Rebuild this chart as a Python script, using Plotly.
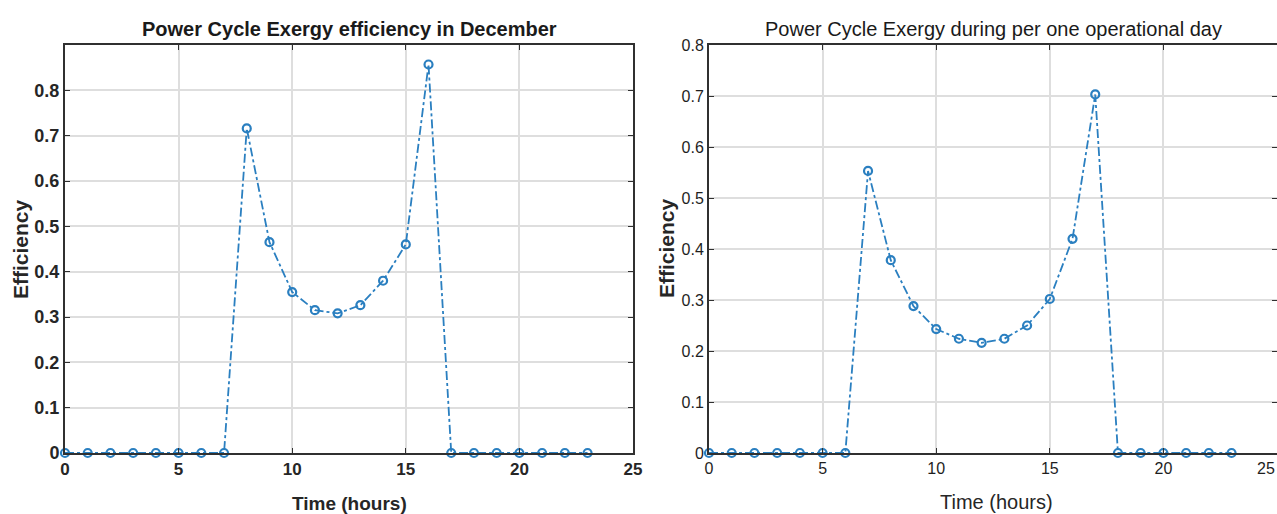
import plotly.graph_objects as go

hours = list(range(24))
eff_december = [0, 0, 0, 0, 0, 0, 0, 0, 0.716, 0.465, 0.355, 0.315, 0.308, 0.326, 0.380, 0.460, 0.857, 0, 0, 0, 0, 0, 0, 0]
eff_day = [0, 0, 0, 0, 0, 0, 0, 0.553, 0.378, 0.288, 0.243, 0.224, 0.216, 0.224, 0.250, 0.302, 0.420, 0.703, 0, 0, 0, 0, 0, 0]
x_ticks = [0, 5, 10, 15, 20, 25]
y_ticks_left = [0, 0.1, 0.2, 0.3, 0.4, 0.5, 0.6, 0.7, 0.8]
y_ticks_right = [0, 0.1, 0.2, 0.3, 0.4, 0.5, 0.6, 0.7, 0.8]

W, H = 1277, 514
FONT = "Liberation Sans, Arial"
BLUE = "#2a7fc0"
TXT = "#262626"

fig = go.Figure()
line_style = dict(color=BLUE, width=1.8, dash="dashdot")
marker_style = dict(symbol="circle-open", size=8, color=BLUE, line=dict(width=2.2, color=BLUE))
fig.add_trace(go.Scatter(x=hours, y=eff_december, mode="lines+markers", line=line_style,
                         marker=marker_style, xaxis="x", yaxis="y", cliponaxis=False, showlegend=False))
fig.add_trace(go.Scatter(x=hours, y=eff_day, mode="lines+markers", line=line_style,
                         marker=marker_style, xaxis="x2", yaxis="y2", cliponaxis=False, showlegend=False))

def px_x(p):
    return p / W

def px_y(p):
    return (H - p) / H

axis_common = dict(showline=True, mirror="ticks", linecolor="#303030", linewidth=2,
                   ticks="inside", ticklen=5, tickcolor="#303030",
                   showgrid=True, gridcolor="#dedede", gridwidth=1.5, zeroline=False,
                   automargin=False)

fig.update_layout(
    width=W, height=H, margin=dict(l=0, r=0, t=0, b=0),
    paper_bgcolor="white", plot_bgcolor="white",
    font=dict(family=FONT, color=TXT),
    xaxis=dict(domain=[px_x(65), px_x(633)], range=[0, 25], tickvals=x_ticks,
               tickfont=dict(size=17, family=FONT, color=TXT, weight="bold"),
               anchor="y", **axis_common),
    yaxis=dict(domain=[px_y(453), px_y(45)], range=[0, 0.9], tickvals=y_ticks_left,
               ticktext=[("%g" % v) for v in y_ticks_left],
               tickfont=dict(size=18, family=FONT, color=TXT, weight="bold"),
               anchor="x", **axis_common),
    xaxis2=dict(domain=[px_x(709), 1.0], range=[0, 25], tickvals=x_ticks,
                tickfont=dict(size=16, family=FONT, color="#1e1e1e"),
                anchor="y2", **axis_common),
    yaxis2=dict(domain=[px_y(453), px_y(45)], range=[0, 0.8], tickvals=y_ticks_right,
                ticktext=[("%g" % v) for v in y_ticks_right],
                tickfont=dict(size=16, family=FONT, color="#1e1e1e"),
                anchor="x2", **axis_common),
    annotations=[
        dict(text="<b>Power Cycle Exergy efficiency in December</b>", x=px_x(349), y=px_y(29),
             xref="paper", yref="paper", showarrow=False, xanchor="center", yanchor="middle",
             font=dict(size=20, family=FONT, color="#1a1a1a")),
        dict(text="Power Cycle Exergy during per one operational day", x=px_x(993), y=px_y(29),
             xref="paper", yref="paper", showarrow=False, xanchor="center", yanchor="middle",
             font=dict(size=20, family=FONT, color="#1a1a1a")),
        dict(text="<b>Time (hours)</b>", x=px_x(349), y=px_y(503),
             xref="paper", yref="paper", showarrow=False, xanchor="center", yanchor="middle",
             font=dict(size=19, family=FONT, color=TXT)),
        dict(text="Time (hours)", x=px_x(996), y=px_y(502),
             xref="paper", yref="paper", showarrow=False, xanchor="center", yanchor="middle",
             font=dict(size=20, family=FONT, color=TXT)),
        dict(text="<b>Efficiency</b>", x=px_x(20), y=px_y(249), textangle=-90,
             xref="paper", yref="paper", showarrow=False, xanchor="center", yanchor="middle",
             font=dict(size=21, family=FONT, color=TXT)),
        dict(text="<b>Efficiency</b>", x=px_x(667), y=px_y(248), textangle=-90,
             xref="paper", yref="paper", showarrow=False, xanchor="center", yanchor="middle",
             font=dict(size=21, family=FONT, color=TXT)),
        dict(text=str(x_ticks[-1]), x=x_ticks[-1], xref="x2", y=px_y(468), yref="paper",
             showarrow=False, xanchor="right", yanchor="middle",
             font=dict(size=16, family=FONT, color="#1e1e1e")),
    ],
)

fig.write_html("out.html")
